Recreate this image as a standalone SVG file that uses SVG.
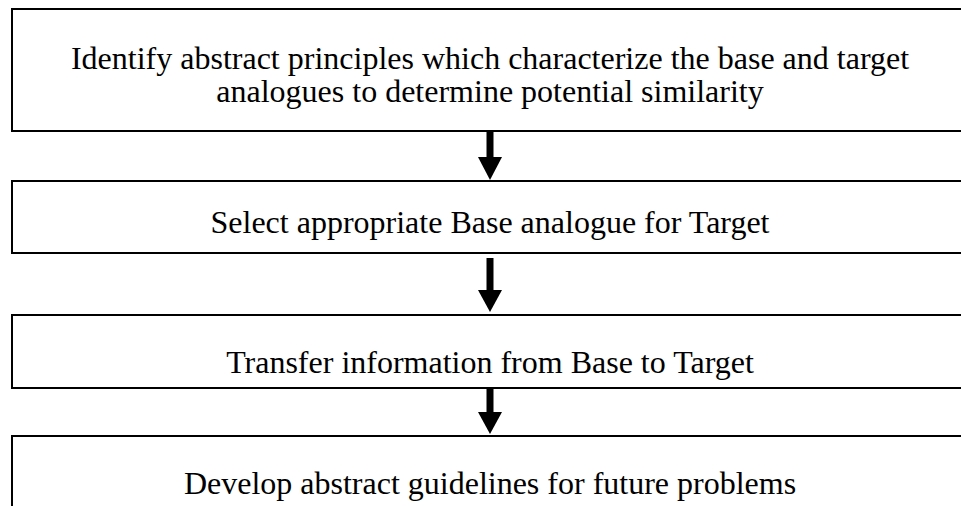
<svg xmlns="http://www.w3.org/2000/svg" width="961" height="506" viewBox="0 0 961 506">
<style>
.box{fill:#fff;stroke:#000;stroke-width:2}
.t{font-family:"Liberation Serif","Times New Roman",serif;font-size:32px;fill:#000;text-anchor:middle}
.sh{stroke:#000;stroke-width:7;fill:none}
.hd{fill:#000}
</style>
<rect width="961" height="506" fill="#fff"/>
<g id="n1"><rect class="box" x="12" y="9" width="960" height="122"/>
<text class="t" x="490" y="69">Identify abstract principles which characterize the base and target</text>
<text class="t" x="490" y="102">analogues to determine potential similarity</text></g>
<g id="n2"><rect class="box" x="12" y="181" width="960" height="72"/>
<text class="t" x="490" y="233">Select appropriate Base analogue for Target</text></g>
<g id="n3"><rect class="box" x="12" y="315" width="960" height="73"/>
<text class="t" x="490" y="373">Transfer information from Base to Target</text></g>
<g id="n4"><rect class="box" x="12" y="436" width="960" height="80"/>
<text class="t" x="490" y="494">Develop abstract guidelines for future problems</text></g>
<g id="connectors">
<line class="sh" x1="490" y1="131" x2="490" y2="158"/><polygon class="hd" points="478,157 502,157 490,180"/>
<line class="sh" x1="490" y1="258" x2="490" y2="291"/><polygon class="hd" points="478,290 502,290 490,312"/>
<line class="sh" x1="490" y1="388" x2="490" y2="413"/><polygon class="hd" points="478,412 502,412 490,434"/>
</g>
</svg>
